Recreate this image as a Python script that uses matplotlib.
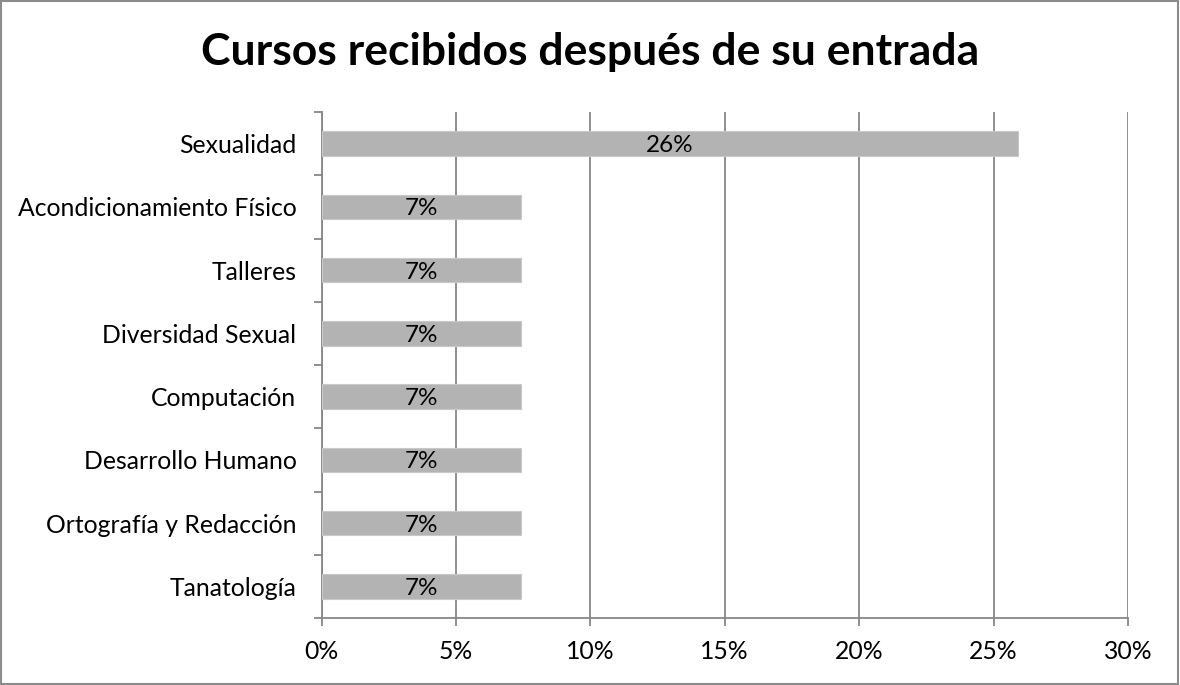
import numpy as np
import matplotlib
matplotlib.use("Agg")
import matplotlib.pyplot as plt
from matplotlib.patches import Rectangle

#=======================================================
# Data
#=======================================================

cursos = ["Sexualidad", "Acondicionamiento Físico", "Talleres", "Diversidad Sexual",
          "Computación", "Desarrollo Humano", "Ortografía y Redacción", "Tanatología"]
valores = [7/27, 2/27, 2/27, 2/27, 2/27, 2/27, 2/27, 2/27]
etiquetas = ["26%", "7%", "7%", "7%", "7%", "7%", "7%", "7%"]

#=======================================================
# Plot
#=======================================================

plt.rcParams['font.family'] = ['Lato', 'DejaVu Sans']

fig = plt.figure(figsize=(11.8, 6.85), dpi=100)
ax = fig.add_axes([321.5/1180, 1 - 618/685, (1128 - 321.5)/1180, (618 - 112)/685])

y = np.arange(len(cursos))[::-1]
bars = ax.barh(y, valores, height=0.39, color='#b3b3b3', edgecolor='#c8c8c8',
               linewidth=0.8, zorder=3)
for b, lab in zip(bars, etiquetas):
    ax.text(b.get_width()/2, b.get_y() + b.get_height()/2, lab,
            ha='center', va='center_baseline', fontsize=17.5, color='black', zorder=4)

ax.set_xlim(0, 0.30)
ax.set_ylim(-0.5, len(cursos) - 0.5)
ax.set_xticks(np.arange(0, 0.31, 0.05))
ax.set_xticklabels([f"{int(round(v*100))}%" for v in np.arange(0, 0.31, 0.05)])
ax.set_yticks(y)
ax.set_yticklabels(cursos)
ax.set_yticks(np.arange(-0.5, len(cursos), 1.0), minor=True)

ax.grid(axis='x', color='#878787', linewidth=1.3, zorder=0)
for s in ['top', 'right']:
    ax.spines[s].set_visible(False)
for s in ['left', 'bottom']:
    ax.spines[s].set_color('#878787')
    ax.spines[s].set_linewidth(1.3)

ax.tick_params(axis='y', which='major', length=0, pad=18, labelsize=17.8)
ax.tick_params(axis='y', which='minor', length=6, width=1.3, color='#878787')
ax.tick_params(axis='x', which='major', length=6, width=1.3, color='#878787',
               pad=10, labelsize=17.8)

fig.text(0.5, 1 - 52/685, "Cursos recibidos después de su entrada",
         ha='center', va='center', fontsize=32, fontweight='bold')

fig.patches.append(Rectangle((0.001, 0.001), 0.997, 0.997, transform=fig.transFigure,
                             fill=False, edgecolor='#8c8c8c', linewidth=1.5))

fig.savefig("out.png", dpi=100)
